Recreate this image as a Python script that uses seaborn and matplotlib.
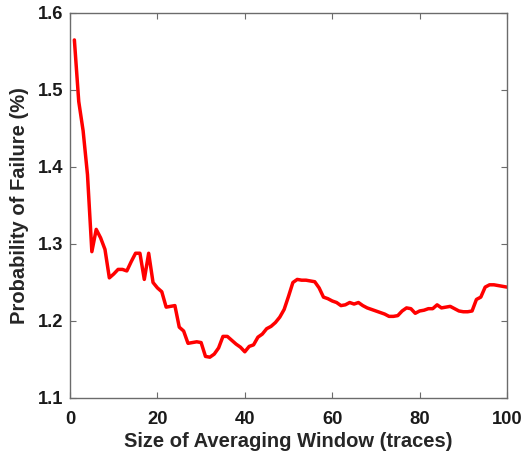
import matplotlib
matplotlib.use("Agg")
import matplotlib.pyplot as plt
import seaborn as sns
import pandas as pd

# Window sizes (number of averaged traces) and failure probability in percent
window_size = list(range(1, 101))
failure_prob = [
    1.565, 1.485, 1.447, 1.390, 1.290, 1.319, 1.308, 1.293, 1.256, 1.261,
    1.267, 1.267, 1.265, 1.277, 1.288, 1.288, 1.254, 1.288, 1.250, 1.243,
    1.238, 1.218, 1.219, 1.220, 1.192, 1.187, 1.171, 1.172, 1.173, 1.172,
    1.154, 1.153, 1.157, 1.165, 1.180, 1.180, 1.175, 1.170, 1.166, 1.160,
    1.167, 1.169, 1.179, 1.183, 1.190, 1.193, 1.198, 1.205, 1.215, 1.232,
    1.250, 1.254, 1.253, 1.253, 1.252, 1.251, 1.243, 1.231, 1.229, 1.226,
    1.224, 1.220, 1.221, 1.224, 1.222, 1.224, 1.220, 1.217, 1.215, 1.213,
    1.211, 1.209, 1.206, 1.206, 1.207, 1.213, 1.217, 1.216, 1.210, 1.213,
    1.214, 1.216, 1.216, 1.221, 1.217, 1.218, 1.219, 1.216, 1.213, 1.212,
    1.212, 1.213, 1.228, 1.231, 1.244, 1.247, 1.247, 1.246, 1.245, 1.244,
]
x_ticks = [0, 20, 40, 60, 80, 100]
y_ticks = [1.1, 1.2, 1.3, 1.4, 1.5, 1.6]

df = pd.DataFrame({"window": window_size, "pf": failure_prob})

sns.set_theme(style="white")
plt.rcParams["font.family"] = ["Liberation Sans", "DejaVu Sans"]
plt.rcParams["font.weight"] = "bold"

fig = plt.figure(figsize=(5.24, 4.59), dpi=100)
ax = fig.add_axes([0.1336, 0.1329, 0.8340, 0.8388])

sns.lineplot(data=df, x="window", y="pf", color="#ff0000", linewidth=2.5, ax=ax)

tick_fs = 13.2
label_fs = 14.5
ax.set_xlim(0, 100)
ax.set_ylim(1.1, 1.6)
ax.set_xticks(x_ticks)
ax.set_yticks(y_ticks)
ax.set_xticklabels([str(v) for v in x_ticks], fontsize=tick_fs, fontweight="bold")
ax.set_yticklabels([f"{v:.1f}" for v in y_ticks], fontsize=tick_fs, fontweight="bold")
ax.set_xlabel("Size of Averaging Window (traces)", fontsize=label_fs, fontweight="bold", labelpad=2.5)
ax.set_ylabel("Probability of Failure (%)", fontsize=label_fs, fontweight="bold", labelpad=6.5)

spine_color = "#6b6b6b"
for s in ax.spines.values():
    s.set_visible(True)
    s.set_color(spine_color)
    s.set_linewidth(1.0)
ax.tick_params(direction="in", length=4, width=0.8, color=spine_color,
               top=True, right=True, bottom=True, left=True,
               labelcolor="#1a1a1a")
ax.tick_params(axis="x", pad=9.5)
ax.tick_params(axis="y", pad=5)
ax.grid(False)

fig.savefig("out.png", dpi=100)
